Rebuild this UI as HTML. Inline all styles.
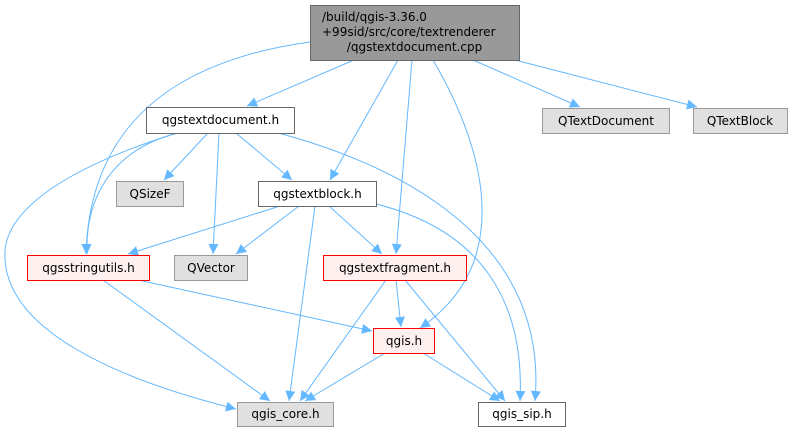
<!DOCTYPE html>
<html><head><meta charset="utf-8"><style>
body{margin:0;background:#fff;}
svg text{font-family:"DejaVu Sans","Liberation Sans",sans-serif;font-size:12px;fill:#000;}
</style></head><body>
<svg width="793" height="432" viewBox="0 0 793 432" xmlns="http://www.w3.org/2000/svg">
<defs><marker id="a" viewBox="0 0 10 10" refX="10" refY="5" markerWidth="11" markerHeight="10" markerUnits="userSpaceOnUse" orient="auto"><path d="M0,0 L10,5 L0,10 z" fill="#63b8ff"/></marker></defs>
<g fill="none" stroke="#63b8ff" stroke-width="1" marker-end="url(#a)">
<path d="M354,60 L247,106"/>
<path d="M310,42 C180,60 90,120 86,254"/>
<path d="M398,60 L330,180"/>
<path d="M412,60 L396,254"/>
<path d="M433,60 C480,140 520,260 420,328"/>
<path d="M473,60 L580,107"/>
<path d="M515,60 L697,107"/>
<path d="M208,133 L164,180"/>
<path d="M236,133 L292,180"/>
<path d="M219,133 L213,254"/>
<path d="M178,133 C110,150 85,200 87,254"/>
<path d="M177,133 C90,160 10,200 5,250 C0,330 120,380 236,409"/>
<path d="M278,133 C380,160 550,230 535,401"/>
<path d="M280,206 L128,254"/>
<path d="M299,206 L236,254"/>
<path d="M329,206 L382,254"/>
<path d="M315,206 L289,401"/>
<path d="M376,204 C480,230 525,300 520,401"/>
<path d="M138,280 L372,331"/>
<path d="M103,280 L270,401"/>
<path d="M386,280 L300,401"/>
<path d="M396,280 L401,327"/>
<path d="M405,280 L505,401"/>
<path d="M385,353 L305,401"/>
<path d="M423,353 L500,401"/>
</g>
<rect x="310.5" y="5.5" width="209" height="55" fill="#999" stroke="#666"/>
<text x="322" y="21">/build/qgis-3.36.0</text>
<text x="322" y="36">+99sid/src/core/textrenderer</text>
<text x="414.5" y="51" text-anchor="middle">/qgstextdocument.cpp</text>
<g stroke-width="1">
<rect x="146.5" y="107.5" width="148" height="26" fill="#fff" stroke="#666"/>
<rect x="542.5" y="108.5" width="127" height="25" fill="#e0e0e0" stroke="#999"/>
<rect x="693.5" y="108.5" width="94" height="25" fill="#e0e0e0" stroke="#999"/>
<rect x="116.5" y="181.5" width="67" height="25" fill="#e0e0e0" stroke="#999"/>
<rect x="258.5" y="181.5" width="118" height="25" fill="#fff" stroke="#666"/>
<rect x="27.5" y="255.5" width="122" height="25" fill="#fff0f0" stroke="#f00"/>
<rect x="174.5" y="255.5" width="73" height="25" fill="#e0e0e0" stroke="#999"/>
<rect x="323.5" y="255.5" width="143" height="25" fill="#fff0f0" stroke="#f00"/>
<rect x="373.5" y="328.5" width="61" height="25" fill="#fff0f0" stroke="#f00"/>
<rect x="237.5" y="402.5" width="96" height="24" fill="#e0e0e0" stroke="#999"/>
<rect x="478.5" y="402.5" width="87" height="24" fill="#fff" stroke="#666"/>
</g>
<g text-anchor="middle">
<text x="220.5" y="124">qgstextdocument.h</text>
<text x="606" y="125">QTextDocument</text>
<text x="740" y="125">QTextBlock</text>
<text x="150" y="198">QSizeF</text>
<text x="317.5" y="198">qgstextblock.h</text>
<text x="88.5" y="272">qgsstringutils.h</text>
<text x="211" y="272">QVector</text>
<text x="395" y="272">qgstextfragment.h</text>
<text x="404" y="345">qgis.h</text>
<text x="285.5" y="418">qgis_core.h</text>
<text x="522" y="418">qgis_sip.h</text>
</g>
</svg>
</body></html>
